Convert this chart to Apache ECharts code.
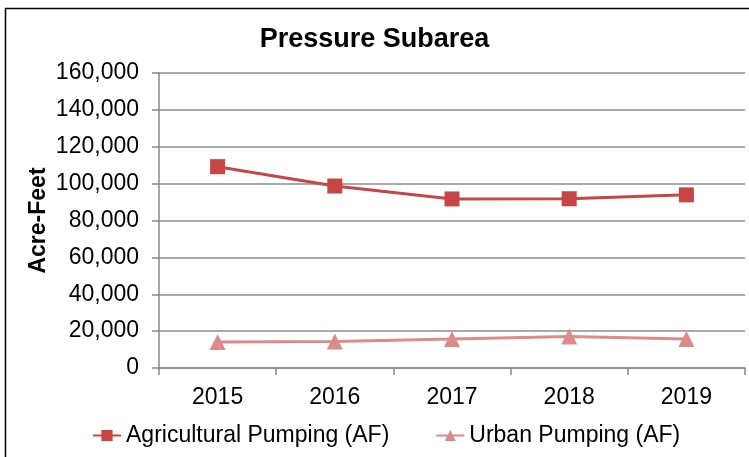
<!DOCTYPE html>
<html>
<head>
<meta charset="utf-8">
<script src="https://cdn.jsdelivr.net/npm/echarts@6/dist/echarts.min.js"></script>
<style>
html, body { margin: 0; padding: 0; background: #fff; }
#main { width: 749px; height: 457px; }
</style>
</head>
<body>
<div id="main"></div>
<script>
// data
var years = ['2015', '2016', '2017', '2018', '2019'];
var agPumping = [109200, 98700, 91700, 91800, 93900];
var urbanPumping = [14100, 14400, 15700, 17100, 15700];
var yTicks = { min: 0, max: 160000, interval: 20000 };

var myChart = echarts.init(document.getElementById('main'));
var font = 'Liberation Sans, Arial, sans-serif';
var option = {
    animation: false,
    title: {
        text: 'Pressure Subarea',
        left: 'center',
        top: 21,
        textStyle: { fontFamily: font, fontSize: 27, fontWeight: 'bold', color: '#000' }
    },
    graphic: [{
        type: 'rect',
        shape: { x: 5.5, y: 8.5, width: 760, height: 470 },
        style: { fill: 'none', stroke: '#000', lineWidth: 1.5 },
        silent: true
    }],
    grid: { left: 159, right: 4, top: 73, bottom: 89 },
    legend: {
        bottom: 5,
        left: 87,
        itemWidth: 28,
        itemHeight: 14,
        itemGap: 46,
        textStyle: { fontFamily: font, fontSize: 23, color: '#000' },
        data: ['Agricultural Pumping (AF)', 'Urban Pumping (AF)']
    },
    xAxis: {
        type: 'category',
        data: years,
        boundaryGap: true,
        axisLine: { lineStyle: { color: '#888', width: 1.5 } },
        axisTick: { show: true, length: 7, lineStyle: { color: '#888', width: 1.5 } },
        axisLabel: { fontFamily: font, fontSize: 23, color: '#000', margin: 18 }
    },
    yAxis: {
        type: 'value',
        min: yTicks.min,
        max: yTicks.max,
        interval: yTicks.interval,
        name: 'Acre-Feet',
        nameLocation: 'middle',
        nameGap: 109,
        nameMoveOverlap: false,
        nameTextStyle: { fontFamily: font, fontSize: 23, fontWeight: 'bold', color: '#000' },
        axisLine: { show: true, lineStyle: { color: '#888', width: 1.5 } },
        axisTick: { show: true, inside: false, length: 7, lineStyle: { color: '#888', width: 1.5 } },
        splitLine: { lineStyle: { color: '#8c8c8c', width: 1.5 } },
        axisLabel: {
            fontFamily: font, fontSize: 23, color: '#000', margin: 20,
            formatter: function (v) { return v.toString().replace(/\B(?=(\d{3})+(?!\d))/g, ','); }
        }
    },
    series: [{
        name: 'Agricultural Pumping (AF)',
        type: 'line',
        data: agPumping,
        symbol: 'rect',
        symbolSize: 15,
        color: '#C84545',
        lineStyle: { width: 3, color: '#C84545' },
        itemStyle: { color: '#C84545' }
    }, {
        name: 'Urban Pumping (AF)',
        type: 'line',
        data: urbanPumping,
        symbol: 'triangle',
        symbolSize: 16,
        color: '#DD8A8A',
        lineStyle: { width: 3, color: '#DD8A8A' },
        itemStyle: { color: '#DD8A8A' }
    }]
};
myChart.setOption(option);
</script>
</body>
</html>
